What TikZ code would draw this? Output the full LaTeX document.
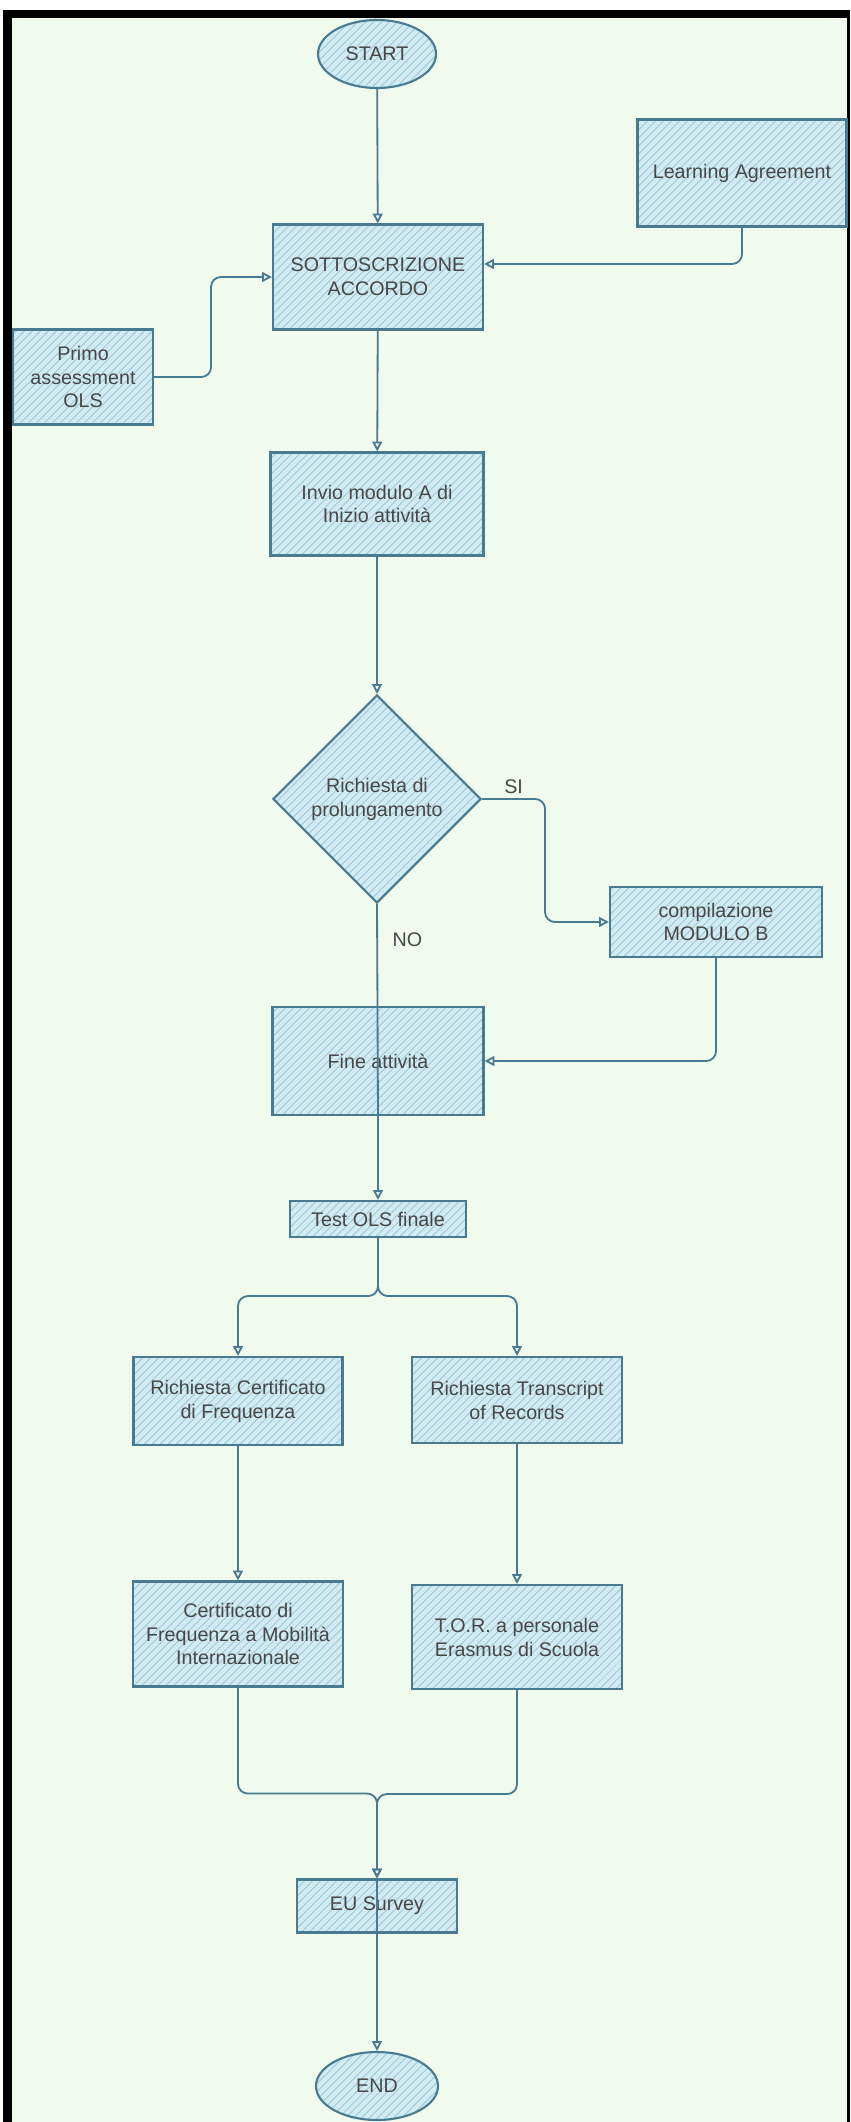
\documentclass[tikz,border=0pt]{standalone}
\usepackage{fontspec}
\setmainfont{Liberation Sans}
\usepackage{xcolor}
\usepackage{tikz}
\usetikzlibrary{shapes.geometric, arrows.meta, patterns.meta, calc}
\definecolor{paper}{RGB}{240,251,237}
\definecolor{edge}{RGB}{72,122,146}
\definecolor{boxfill}{RGB}{210,235,242}
\definecolor{hatch}{RGB}{150,196,212}
\colorlet{txt}{black!72}
\tikzset{
    flow/.style={draw=edge, line width=1.3pt, -{Triangle[open, length=7pt, width=7pt]}, rounded corners=7pt},
    link/.style={draw=edge, line width=1.3pt},
    sketchbox/.style 2 args={draw=edge, line width=1.5pt, preaction={fill=boxfill},
        pattern={Lines[angle=45, distance=4pt, line width=0.7pt]}, pattern color=hatch,
        text=txt, align=center, inner sep=1pt, minimum width=#1*0.025cm, minimum height=#2*0.025cm},
    terminal/.style 2 args={sketchbox={#1}{#2}, ellipse},
    choice/.style={sketchbox={208}{208}, diamond},
    lbl/.style={text=txt}
}

\begin{document}
\begin{tikzpicture}[x=0.025cm, y=-0.025cm, font=\fontsize{14}{17}\selectfont]
        \useasboundingbox (0,0) rectangle (850,2122);
        \fill[white] (0,0) rectangle (850,2122);
        \fill[black] (3,10) rectangle (850,2122);
        \fill[paper] (12,18) rectangle (847,2122);

        \node[terminal={118}{68}] (start) at (377,54) {START};
        \node[sketchbox={210}{105}] (sott) at (378,277) {SOTTOSCRIZIONE\\ACCORDO};
        \node[sketchbox={209}{107}] (la) at (742,173) {Learning Agreement};
        \node[sketchbox={140}{95}] (primo) at (83,377) {Primo\\assessment\\OLS};
        \node[sketchbox={213}{103}] (invio) at (377,504) {Invio modulo A di\\Inizio attività};
        \node[choice] (dia) at (377,799) {Richiesta di\\prolungamento};
        \node[sketchbox={212}{70}] (comp) at (716,922) {compilazione\\MODULO B};
        \node[sketchbox={211}{108}] (fine) at (378,1061) {Fine attività};
        \node[sketchbox={176}{36}] (test) at (378,1219) {Test OLS finale};
        \node[sketchbox={209}{88}] (rcert) at (238,1401) {Richiesta Certificato\\di Frequenza};
        \node[sketchbox={210}{86}] (rtor) at (517,1400) {Richiesta Transcript\\of Records};
        \node[sketchbox={210}{105}] (cert) at (238,1634) {Certificato di\\Frequenza a Mobilità\\Internazionale};
        \node[sketchbox={210}{104}] (tor) at (517,1637) {T.O.R. a personale\\Erasmus di Scuola};
        \node[sketchbox={160}{53}] (eu) at (377,1906) {EU Survey};
        \node[terminal={122}{68}] (end) at (377,2086) {END};

        \draw[flow] (start) -- (sott);
        \draw[flow] (primo.east) -- ++(57,0) |- (sott.west);
        \draw[flow] (la.south) |- (sott.7);
        \draw[flow] (sott) -- (invio);
        \draw[flow] (invio) -- (dia);
        \draw[flow] (dia.east) -- node[lbl, above] {SI} ++(63,0) |- (comp.west);
        \draw[link] (dia.south) -- node[lbl, right, pos=0.17, xshift=7pt] {NO} (fine.south);
        \draw[flow] (fine.south) -- (test);
        \draw[flow] (comp.south) |- (fine.east);
        \draw[flow] (test.south) -- ++(0,58) -| (rcert.north);
        \draw[flow] (test.south) -- ++(0,58) -| (rtor.north);
        \draw[flow] (rcert) -- (cert);
        \draw[flow] (rtor) -- (tor);
        \draw[flow] (cert.south) -- ++(0,106) -| (eu.north);
        \draw[flow] (tor.south) -- ++(0,104) -| (eu.north);
        \draw[flow] (eu.north) -- (end);

    \end{tikzpicture}
\end{document}
